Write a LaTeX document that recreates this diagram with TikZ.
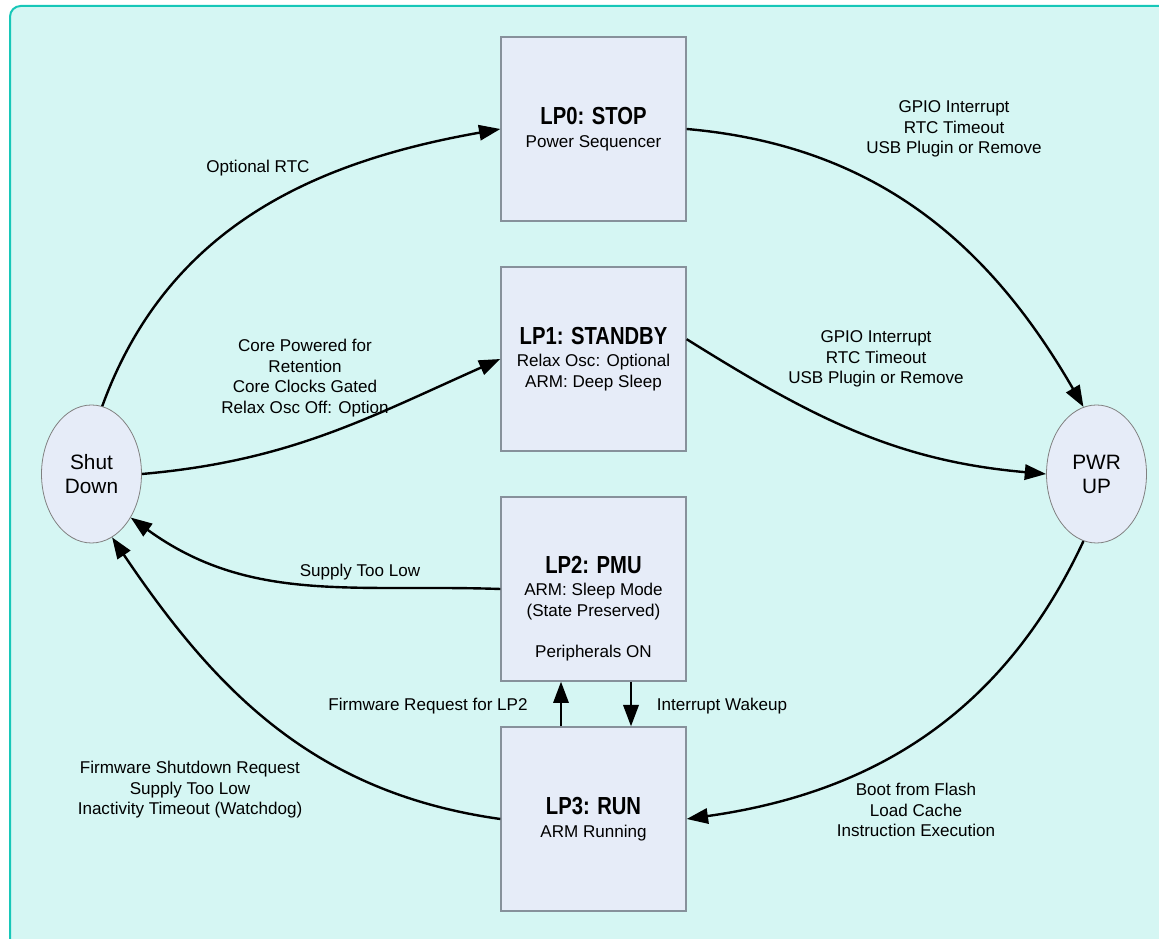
\documentclass[tikz,border=0pt]{standalone}
\usepackage{fontspec}
\setmainfont{Liberation Sans}
\newfontfamily\titlefont[FakeStretch=0.82]{Liberation Sans}
\usetikzlibrary{arrows.meta,shapes.geometric,calc}
\definecolor{panelfill}{RGB}{213,246,243}
\definecolor{panelborder}{RGB}{23,199,184}
\definecolor{statefill}{RGB}{230,236,248}
\definecolor{stateborder}{RGB}{135,145,155}
\tikzstyle{lpstate}=[draw=stateborder,line width=1pt,fill=statefill,minimum width=138.75pt,minimum height=138pt,align=center,inner sep=0pt]
\tikzstyle{endstate}=[ellipse,draw=gray,line width=0.6pt,fill=statefill,minimum width=75pt,minimum height=103.5pt,align=center,inner sep=0pt,font=\fontsize{15.6}{18}\selectfont]
\tikzstyle{transition}=[line width=1.8pt,-{Triangle[length=16pt,width=11.5pt]}]
\tikzstyle{condition}=[align=center]
\newcommand{\lptitle}[1]{{\titlefont\bfseries\fontsize{18.5}{20}\selectfont #1}\\[1.5pt]} % bold narrow heading of a power state

\begin{document}
\begin{tikzpicture}[x=0.75pt,y=0.75pt,font=\fontsize{12.8}{15.4}\selectfont]
	\useasboundingbox (0,0) rectangle (1159,938);
	% panel, runs off the right and bottom edges
	\draw[panelborder,fill=panelfill,line width=1.5pt,rounded corners=8pt] (10,-20) rectangle (1185,932);

	% power states
	\node[lpstate] (lp0) at (593.5,809) {\lptitle{LP0: STOP}Power Sequencer};
	\node[lpstate] (lp1) at (593.5,579) {\lptitle{LP1: STANDBY}Relax Osc: Optional\\ARM: Deep Sleep};
	\node[lpstate] (lp2) at (593.5,349) {};
	\node[condition] (lp2text) at ($(lp2)+(0,-19.5)$) {\lptitle{LP2: PMU}ARM: Sleep Mode\\(State Preserved)\\[15.4pt]Peripherals ON};
	\node[lpstate] (lp3) at (593.5,119) {\lptitle{LP3: RUN}ARM Running};
	\node[endstate] (sd) at (91.5,464) {Shut\\Down};
	\node[endstate] (pwr) at (1096.5,464) {PWR\\UP};

	% transitions
	\draw[transition] (sd.81) to[out=70,in=190] (lp0.west);
	\draw[transition] (sd.east) to[out=5,in=204] (lp1.west);
	\draw[transition] (lp0.east) to[out=-5,in=120] (pwr.101);
	\draw[transition] (lp1.12) to[out=-32,in=175] (pwr.west);
	\draw[transition] (lp2.west) to[out=178,in=-36] (sd.-48);
	\draw[transition] (lp3.west) to[out=172,in=-56] (sd.-72);
	\draw[transition] (pwr.259) to[out=245,in=8] (lp3.east);
	\draw[transition] ($(lp3.north)+(-32.5,0)$) -- ($(lp2.south)+(-32.5,0)$); % up to LP2
	\draw[transition] ($(lp2.south)+(37.5,0)$) -- ($(lp3.north)+(37.5,0)$); % back to run

	% conditions
	\node[condition] (optrtc) at (258,770) {Optional RTC};
	\node[condition] (retention) at (305,560) {Core Powered for\\Retention\\Core Clocks Gated\\Relax Osc Off: Option};
	\node[condition] (wakestop) at (954,809) {GPIO Interrupt\\RTC Timeout\\USB Plugin or Remove};
	\node[condition] (wakestandby) at (876,579) {GPIO Interrupt\\RTC Timeout\\USB Plugin or Remove};
	\node[condition] (lowsupply) at (360,366) {Supply Too Low};
	\node[condition] (fwrequest) at (428,232) {Firmware Request for LP2};
	\node[condition] (irqwake) at (722,232) {Interrupt Wakeup};
	\node[condition] (shutrequest) at (190,148) {Firmware Shutdown Request\\Supply Too Low\\Inactivity Timeout (Watchdog)};
	\node[condition] (boot) at (916,128) {Boot from Flash\\Load Cache\\Instruction Execution};
\end{tikzpicture}
\end{document}
